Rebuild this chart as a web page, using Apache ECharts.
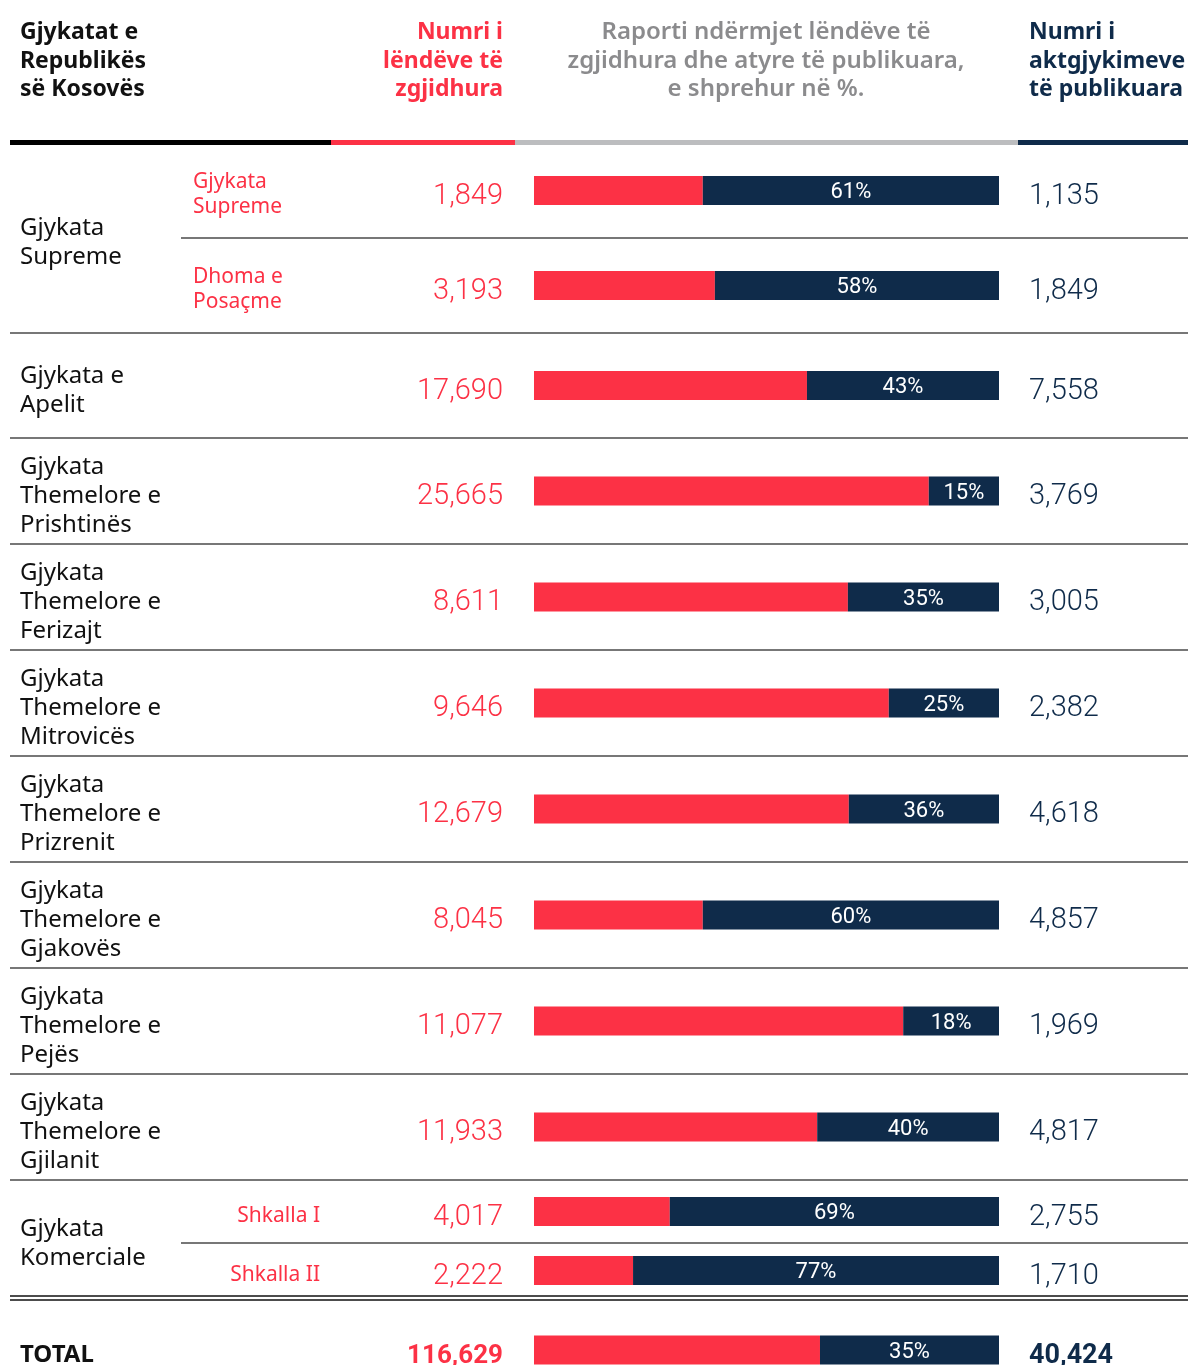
<!DOCTYPE html>
<html>
<head>
<meta charset="utf-8">
<script src="https://cdn.jsdelivr.net/npm/echarts@6/dist/echarts.min.js"></script>
<style>
  html, body { margin: 0; padding: 0; background: #fff; }
  #main { width: 1188px; height: 1365px; }
</style>
</head>
<body>
<div id="main"></div>
<script>
// courts and the rows (first,last) each one spans
var courtNames = ['Gjykata\nSupreme', 'Gjykata e\nApelit', 'Gjykata\nThemelore e\nPrishtinës', 'Gjykata\nThemelore e\nFerizajt',
  'Gjykata\nThemelore e\nMitrovicës', 'Gjykata\nThemelore e\nPrizrenit', 'Gjykata\nThemelore e\nGjakovës',
  'Gjykata\nThemelore e\nPejës', 'Gjykata\nThemelore e\nGjilanit', 'Gjykata\nKomerciale', 'TOTAL'];
var courtRows = [[0, 1], [2, 2], [3, 3], [4, 4], [5, 5], [6, 6], [7, 7], [8, 8], [9, 9], [10, 11], [12, 12]];

// one entry per row
var subNames = ['Gjykata\nSupreme', 'Dhoma e\nPosaçme', '', '', '', '', '', '', '', '', 'Shkalla I', 'Shkalla II', ''];
var chosen = [1849, 3193, 17690, 25665, 8611, 9646, 12679, 8045, 11077, 11933, 4017, 2222, 116629];
var published = [1135, 1849, 7558, 3769, 3005, 2382, 4618, 4857, 1969, 4817, 2755, 1710, 40424];
var ratioPct = [61, 58, 43, 15, 35, 25, 36, 60, 18, 40, 69, 77, 35];
// red part of each bar as it is drawn, in % of the bar length
var redShare = [36.3, 38.9, 58.7, 84.9, 67.5, 76.3, 67.7, 36.3, 79.4, 60.9, 29.2, 21.3, 61.5];

// layout: height of each row in px
var rowHeights = [95, 95, 105, 106, 106, 106, 106, 106, 106, 106, 63, 55, 104];

var RED = '#fc3145', NAVY = '#0f2b4a', GRAY = '#8b8b8d', LINE = '#4a4a4a';
var TXT = '"Noto Sans", sans-serif';
var NUM = 'Roboto, sans-serif';

var rowStart = [], acc = 0;
for (var i = 0; i < rowHeights.length; i++) { rowStart.push(acc); acc += rowHeights[i]; }
var totalH = acc;
var last = chosen.length - 1;

var rowData = chosen.map(function (v, i) {
  return [redShare[i], rowStart[i], rowStart[i] + rowHeights[i], i];
});
var courtData = courtRows.map(function (r, k) {
  return [0, rowStart[r[0]], rowStart[r[1]] + rowHeights[r[1]], k];
});

function fmt(n) { return n.toLocaleString('en-US'); }

function renderRow(params, api) {
  var i = api.value(3);
  var top = api.coord([0, api.value(1)])[1];
  var bottom = api.coord([0, api.value(2)])[1];
  var cy = (top + bottom) / 2;
  var x0 = api.coord([0, 0])[0];
  var xs = api.coord([api.value(0), 0])[0];
  var x1 = api.coord([100, 0])[0];
  var bold = i === last;
  var kids = [
    { type: 'rect', shape: { x: x0, y: cy - 14.5, width: xs - x0, height: 29 }, style: { fill: RED } },
    { type: 'rect', shape: { x: xs, y: cy - 14.5, width: x1 - xs, height: 29 }, style: { fill: NAVY } },
    { type: 'text', x: (xs + x1) / 2, y: cy + 2, style: { text: ratioPct[i] + '%', fill: '#fff', fontFamily: NUM, fontSize: 22, align: 'center', verticalAlign: 'middle' } },
    { type: 'text', x: 503, y: cy + 6, style: { text: fmt(chosen[i]), fill: RED, fontFamily: NUM, fontSize: bold ? 26 : 29, fontWeight: bold ? 'bold' : 300, align: 'right', verticalAlign: 'middle' } },
    { type: 'text', x: 1029, y: cy + 6, style: { text: fmt(published[i]), fill: NAVY, fontFamily: NUM, fontSize: bold ? 27 : 29, fontWeight: bold ? 'bold' : 300, align: 'left', verticalAlign: 'middle' } }
  ];
  if (subNames[i]) {
    var rightSub = subNames[i].indexOf('Shkalla') === 0;
    kids.push({ type: 'text', x: rightSub ? 320 : 193, y: cy + (rightSub ? 5 : 4), style: { text: subNames[i], fill: RED, fontFamily: TXT, fontSize: 21, lineHeight: 25, align: rightSub ? 'right' : 'left', verticalAlign: 'middle' } });
  }
  // separator under the row
  if (i === 0 || i === 10) {
    kids.push({ type: 'line', shape: { x1: 181, y1: bottom, x2: 1188, y2: bottom }, style: { stroke: LINE, lineWidth: 1.5 } });
  } else if (i === 11) {
    kids.push({ type: 'line', shape: { x1: 10, y1: bottom - 2, x2: 1188, y2: bottom - 2 }, style: { stroke: '#111', lineWidth: 1.5 } });
    kids.push({ type: 'line', shape: { x1: 10, y1: bottom + 2, x2: 1188, y2: bottom + 2 }, style: { stroke: '#111', lineWidth: 1.5 } });
  } else if (i !== last) {
    kids.push({ type: 'line', shape: { x1: 10, y1: bottom, x2: 1188, y2: bottom }, style: { stroke: LINE, lineWidth: 1.5 } });
  }
  return { type: 'group', children: kids };
}

function renderCourt(params, api) {
  var k = api.value(3);
  var top = api.coord([0, api.value(1)])[1];
  var bottom = api.coord([0, api.value(2)])[1];
  var isTotal = k === courtNames.length - 1;
  return {
    type: 'text', x: 20, y: (top + bottom) / 2 + 5,
    style: { text: courtNames[k], fill: '#111', fontFamily: TXT, fontSize: 24, fontWeight: isTotal ? 'bold' : 'normal',
      lineHeight: 29, align: 'left', verticalAlign: 'middle' }
  };
}

function headText(x, align, color, txt, weight, size) {
  return { type: 'text', x: x, y: 61, style: { text: txt, fill: color, fontFamily: TXT, fontSize: size, fontWeight: weight,
    lineHeight: 28.5, align: align, verticalAlign: 'middle' } };
}
function headLine(a, b, color) {
  return { type: 'line', shape: { x1: a, y1: 142.5, x2: b, y2: 142.5 }, style: { stroke: color, lineWidth: 5 } };
}

var chart = echarts.init(document.getElementById('main'));
chart.setOption({
  animation: false,
  backgroundColor: '#fff',
  grid: { left: 534, width: 465, top: 143, height: totalH, outerBoundsMode: 'none', containLabel: false },
  xAxis: { type: 'value', min: 0, max: 100, show: false },
  yAxis: { type: 'value', min: 0, max: totalH, inverse: true, show: false },
  graphic: [
    headText(20, 'left', '#111', 'Gjykatat e\nRepublikës\nsë Kosovës', 'bold', 23),
    headText(503, 'right', RED, 'Numri i\nlëndëve të\nzgjidhura', 'bold', 23),
    headText(766, 'center', GRAY, 'Raporti ndërmjet lëndëve të\nzgjidhura dhe atyre të publikuara,\ne shprehur në %.', 600, 24),
    headText(1029, 'left', NAVY, 'Numri i\naktgjykimeve\ntë publikuara', 'bold', 23),
    headLine(10, 331, '#000'),
    headLine(331, 515, RED),
    headLine(515, 1018, '#bcbdbf'),
    headLine(1018, 1188, NAVY)
  ],
  series: [
    { type: 'custom', name: 'rows', renderItem: renderRow, data: rowData, encode: { x: 0, y: [1, 2] }, clip: false, silent: true },
    { type: 'custom', name: 'courts', renderItem: renderCourt, data: courtData, encode: { x: 0, y: [1, 2] }, clip: false, silent: true }
  ]
});
</script>
</body>
</html>
